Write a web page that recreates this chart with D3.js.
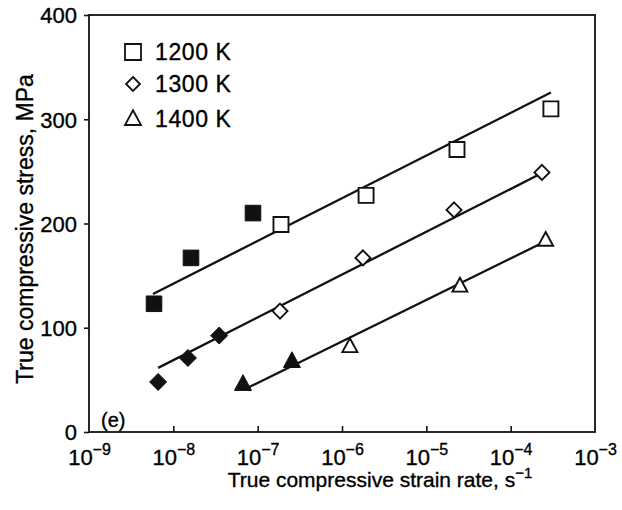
<!DOCTYPE html>
<html>
<head>
<meta charset="utf-8">
<script src="https://cdn.jsdelivr.net/npm/d3@7/dist/d3.min.js"></script>
<style>
  html, body { margin: 0; padding: 0; background: #fff; }
  svg { display: block; }
  text { font-family: "Liberation Sans", Arial, Helvetica, sans-serif; fill: #000; stroke: #000; stroke-width: 0.35px; }
</style>
</head>
<body>
<svg id="chart" width="622" height="510"></svg>
<script>
// ---- data ----
const xTickExponents = [-9, -8, -7, -6, -5, -4, -3];
const yTickValues = [0, 100, 200, 300, 400];

const seriesLabels = ["1200 K", "1300 K", "1400 K"];

const rate1200Filled = [5.9e-9, 1.62e-8, 8.8e-8];
const stress1200Filled = [123, 167, 210];
const rate1200Open = [1.89e-7, 1.93e-6, 2.31e-5, 3.0e-4];
const stress1200Open = [199, 227, 271, 310];

const rate1300Filled = [6.6e-9, 1.49e-8, 3.5e-8];
const stress1300Filled = [48, 71, 92.5];
const rate1300Open = [1.84e-7, 1.77e-6, 2.13e-5, 2.35e-4];
const stress1300Open = [116, 167, 213, 249];

const rate1400Filled = [6.7e-8, 2.55e-7];
const stress1400Filled = [46, 68];
const rate1400Open = [1.24e-6, 2.5e-5, 2.6e-4];
const stress1400Open = [82, 140, 184];

const fitRate1200 = [5.74e-9, 3.0e-4];
const fitStress1200 = [132.4, 325.7];
const fitRate1300 = [6.6e-9, 2.23e-4];
const fitStress1300 = [61.5, 247.4];
const fitRate1400 = [7.7e-8, 2.6e-4];
const fitStress1400 = [42.6, 183];

// ---- layout ----
const L = 89, R = 595, T = 15, B = 432;
const svg = d3.select("#chart");

const x = d3.scaleLog().domain([1e-9, 1e-3]).range([L, R]);
const y = d3.scaleLinear().domain([0, 400]).range([B, T]);

// marker shapes
function markerPath(shape, s) {
  const p = d3.path();
  if (shape === "square") {
    p.rect(-s, -s, 2 * s, 2 * s);
  } else if (shape === "diamond") {
    p.moveTo(0, -s); p.lineTo(s, 0); p.lineTo(0, s); p.lineTo(-s, 0); p.closePath();
  } else {
    p.moveTo(0, -s * 1.1); p.lineTo(s, s * 0.75); p.lineTo(-s, s * 0.75); p.closePath();
  }
  return p.toString();
}

// frame
svg.append("rect")
  .attr("x", L).attr("y", T).attr("width", R - L).attr("height", B - T)
  .attr("fill", "none").attr("stroke", "#111").attr("stroke-width", 1.8);

// y axis
const yAxis = d3.axisLeft(y).tickValues(yTickValues).tickSizeInner(5).tickSizeOuter(0).tickPadding(6)
  .tickFormat(d3.format("d"));
const gy = svg.append("g").attr("transform", `translate(${L},0)`).call(yAxis);
gy.select(".domain").remove();
gy.selectAll(".tick line").attr("stroke", "#111").attr("stroke-width", 1.6);
gy.selectAll(".tick text").attr("font-size", 22).attr("dy", "0.36em").attr("dx", -1)
  .style("font-family", "'Liberation Sans', Arial, sans-serif").attr("fill", "#000");

// x axis (inward ticks)
const xAxis = d3.axisBottom(x).tickValues(xTickExponents.map(e => Math.pow(10, e)))
  .tickSizeInner(-6).tickSizeOuter(0).tickFormat(() => "");
const gx = svg.append("g").attr("transform", `translate(0,${B})`).call(xAxis);
gx.select(".domain").remove();
gx.selectAll(".tick line").attr("stroke", "#111").attr("stroke-width", 1.6)
  .filter((d, i) => i === 0 || i === xTickExponents.length - 1).remove();
gx.selectAll(".tick text").each(function(d) {
  const e = Math.round(Math.log10(d));
  const t = d3.select(this).text(null)
    .attr("y", 33).attr("dy", 0).attr("font-size", 22).attr("text-anchor", "middle")
    .style("font-family", "'Liberation Sans', Arial, sans-serif").attr("fill", "#000");
  t.append("tspan").text("10");
  t.append("tspan").text("\u2212" + Math.abs(e)).attr("font-size", 16).attr("dy", -10);
});

// axis titles
svg.append("text")
  .attr("x", 380).attr("y", 487).attr("text-anchor", "middle").attr("font-size", 21)
  .call(t => {
    t.append("tspan").text("True compressive strain rate, s");
    t.append("tspan").text("\u22121").attr("font-size", 15).attr("dy", -9);
  });

svg.append("text")
  .attr("transform", `translate(33,${(63 + 395) / 2}) rotate(-90)`)
  .attr("text-anchor", "middle").attr("font-size", 23)
  .text("True compressive stress, MPa");

// panel label
svg.append("text").attr("x", 101).attr("y", 427).attr("font-size", 20).text("(e)");

// fit lines
const fits = [
  [fitRate1200, fitStress1200],
  [fitRate1300, fitStress1300],
  [fitRate1400, fitStress1400]
];
const line = d3.line().x(d => x(d[0])).y(d => y(d[1]));
fits.forEach(([r, s]) => {
  svg.append("path")
    .attr("d", line(r.map((v, i) => [v, s[i]])))
    .attr("fill", "none").attr("stroke", "#111").attr("stroke-width", 2.3);
});

// points
const groups = [
  { r: rate1200Filled, s: stress1200Filled, shape: "square", filled: true, size: 7.8 },
  { r: rate1200Open, s: stress1200Open, shape: "square", filled: false, size: 7.5 },
  { r: rate1300Filled, s: stress1300Filled, shape: "diamond", filled: true, size: 8.5 },
  { r: rate1300Open, s: stress1300Open, shape: "diamond", filled: false, size: 7.5 },
  { r: rate1400Filled, s: stress1400Filled, shape: "triangle", filled: true, size: 8.5 },
  { r: rate1400Open, s: stress1400Open, shape: "triangle", filled: false, size: 7.5 }
];
groups.forEach(g => {
  svg.append("g").selectAll("path")
    .data(g.r.map((v, i) => [v, g.s[i]]))
    .join("path")
    .attr("transform", d => `translate(${x(d[0])},${y(d[1])})`)
    .attr("d", markerPath(g.shape, g.size))
    .attr("fill", g.filled ? "#111" : "#fff")
    .attr("stroke", "#111")
    .attr("stroke-width", g.filled ? 1 : 1.9)
    .attr("stroke-linejoin", "miter");
});

// legend
const legendShapes = ["square", "diamond", "triangle"];
const legendSizes = [8, 7, 8];
const legend = svg.append("g").selectAll("g").data(seriesLabels).join("g")
  .attr("transform", (d, i) => `translate(133,${[52, 84, 119][i]})`);
legend.append("path")
  .attr("d", (d, i) => markerPath(legendShapes[i], legendSizes[i]))
  .attr("fill", "#fff").attr("stroke", "#111").attr("stroke-width", 1.8);
legend.append("text").attr("x", 22).attr("y", 8).attr("font-size", 23)
  .attr("letter-spacing", 0.6).text(d => d);
</script>
</body>
</html>
